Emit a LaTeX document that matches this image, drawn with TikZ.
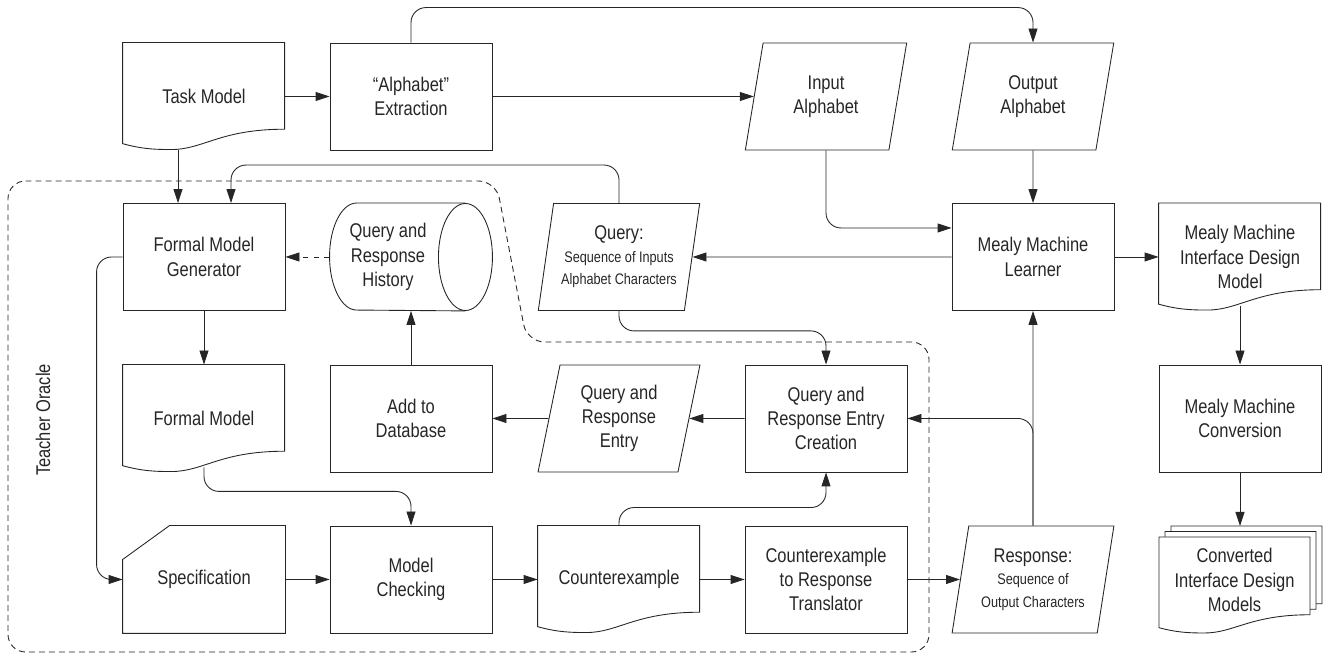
\documentclass[tikz,border=0pt]{standalone}
\usepackage{fontspec}
\setmainfont[FakeStretch=0.83]{Liberation Sans}
\usepackage{tikz}
\usetikzlibrary{positioning, arrows.meta, shapes.geometric}

% document outline with wavy bottom: #2 north west corner, #3 width, #4 height
\newcommand{\docshape}[4][]{\draw[#1, shift={(#2)}, x=#3, y=#4] (0,0) -- (1,0) -- (1,-0.81) .. controls (0.6,-0.81) and (0.5,-1.0) .. (0.3,-1.0) .. controls (0.2,-1.0) and (0.12,-0.995) .. (0,-0.945) -- cycle;}
\newcommand{\smalltext}{\fontsize{8.7}{12}\selectfont}

\begin{document}
\begin{tikzpicture}[color=black!85, line width=0.5pt,
  every node/.style={font=\fontsize{11.3}{13.8}\selectfont},
  box/.style={draw, rectangle, minimum width=3.24cm, minimum height=2.14cm, align=center, inner sep=2pt},
  doc/.style={rectangle, minimum width=3.24cm, minimum height=2.14cm, align=center, inner sep=2pt},
  io/.style={draw, trapezium, trapezium left angle=78, trapezium right angle=102, trapezium stretches=true, minimum width=3.24cm, minimum height=2.14cm, align=center, inner sep=1pt},
  db/.style={rectangle, minimum width=2.32cm, minimum height=2.14cm, align=center, inner sep=1pt},
  arr/.style={-{Triangle[length=0.28cm,width=0.18cm]}},
  region/.style={dash pattern=on 3.4pt off 2.3pt, rounded corners=0.35cm}]
\useasboundingbox (0,0) rectangle (26.48,13.06);

% top row
\node[doc] (tm) at (4.08,11.13) {Task Model};
\docshape{tm.north west}{3.24cm}{2.14cm}
\node[box] (alph) at (8.22,11.13) {“Alphabet”\\Extraction};
\node[io] (ina) at (16.52,11.13) {Input\\Alphabet};
\node[io] (outa) at (20.66,11.13) {Output\\Alphabet};

% second row
\node[box] (fmg) at (4.08,7.92) {Formal Model\\Generator};
\node[db] (hist) at (7.76,7.92) {Query and\\Response\\History};
\draw ([xshift=0.38cm]hist.north east) -- ([xshift=0.54cm]hist.north west) arc[start angle=90, end angle=270, x radius=0.54cm, y radius=1.07cm] -- ([xshift=0.38cm]hist.south east);
\draw ([xshift=0.38cm]hist.east) ellipse [x radius=0.54cm, y radius=1.07cm];
\node[io] (query) at (12.38,7.92) {Query:\\[-1pt]{\smalltext Sequence of Inputs}\\[-1pt]{\smalltext Alphabet Characters}};
\node[box] (mealy) at (20.66,7.92) {Mealy Machine\\Learner};
\node[doc] (mmidm) at (24.80,7.92) {Mealy Machine\\Interface Design\\Model};
\docshape{mmidm.north west}{3.24cm}{2.14cm}

% third row
\node[doc] (fm) at (4.08,4.69) {Formal Model};
\docshape{fm.north west}{3.24cm}{2.14cm}
\node[box] (adb) at (8.22,4.69) {Add to\\Database};
\node[io] (qre) at (12.38,4.69) {Query and\\Response\\Entry};
\node[box] (qrec) at (16.52,4.69) {Query and\\Response Entry\\Creation};
\node[box] (mmc) at (24.80,4.69) {Mealy Machine\\Conversion};

% bottom row
\node[doc] (spec) at (4.08,1.47) {Specification};
\draw (spec.north east) -- ([xshift=0.94cm]spec.north west) -- ([yshift=-0.68cm]spec.north west) -- (spec.south west) -- (spec.south east) -- cycle;
\node[box] (mc) at (8.22,1.47) {Model\\Checking};
\node[doc] (cex) at (12.38,1.47) {Counterexample};
\docshape{cex.north west}{3.24cm}{2.14cm}
\node[box] (ctrt) at (16.52,1.47) {Counterexample\\to Response\\Translator};
\node[io] (resp) at (20.66,1.47) {Response:\\[-1pt]{\smalltext Sequence of}\\[-1pt]{\smalltext Output Characters}};

% stacked documents
\docshape[fill=white]{23.42,2.54}{3.02cm}{1.92cm}
\docshape[fill=white]{23.30,2.43}{3.02cm}{1.92cm}
\docshape[fill=white]{23.18,2.32}{3.02cm}{1.92cm}
\node[doc, minimum width=3.02cm, minimum height=1.92cm] (conv) at (24.69,1.46) {Converted\\Interface Design\\Models};
\coordinate (convtop) at (24.80,2.54);

% teacher oracle region
\draw[region] (0.16,9.44) -- (9.92,9.44) -- (10.54,6.22) -- (18.58,6.22) -- (18.58,0.02) -- (0.16,0.02) -- cycle;
\node[rotate=90] (oracle) at (0.86,4.66) {Teacher Oracle};

% connectors
\draw[arr] (tm.east) -- (alph.west);
\draw[arr] (alph.east) -- (ina.west);
\draw[arr, rounded corners=0.3cm] (alph.north) -- ++(0,0.7) -| (outa.north);
\draw[arr] ([xshift=-0.52cm]tm.south) -- ([xshift=-0.52cm]fmg.north);
\draw[arr, rounded corners=0.3cm] (query.north) -- ++(0,0.76) -| ([xshift=0.54cm]fmg.north);
\draw[arr, dashed] (hist.west) -- (fmg.east);
\draw[arr] (fmg.south) -- (fm.north);
\draw[arr, rounded corners=0.3cm] (fmg.west) -- ++(-0.52,0) |- (spec.west);
\draw[arr] (adb.north) -- (adb.north |- hist.south);
\draw[arr] (qre.west) -- (adb.east);
\draw[arr] (qrec.west) -- (qre.east);
\draw[arr, rounded corners=0.3cm] (query.south) -- ++(0,-0.4) -| (qrec.north);
\draw[arr, rounded corners=0.3cm] ([yshift=0.1cm]fm.south) -- ++(0,-0.48) -| (mc.north);
\draw[arr] (spec.east) -- (mc.west);
\draw[arr] (mc.east) -- (cex.west);
\draw[arr] (cex.east) -- (ctrt.west);
\draw[arr, rounded corners=0.3cm] (cex.north) -- ++(0,0.36) -| (qrec.south);
\draw[arr] (ctrt.east) -- (resp.west);
\draw[arr] (resp.north) -- (mealy.south);
\draw[arr, rounded corners=0.3cm] (resp.north) |- (qrec.east);
\draw[arr] (mealy.west) -- (query.east);
\draw[arr, rounded corners=0.3cm] (ina.south) |- ([yshift=0.58cm]mealy.west);
\draw[arr] (outa.south) -- (mealy.north);
\draw[arr] (mealy.east) -- (mmidm.west);
\draw[arr] ([yshift=0.1cm]mmidm.south) -- (mmc.north);
\draw[arr] (mmc.south) -- (convtop);
\end{tikzpicture}
\end{document}
